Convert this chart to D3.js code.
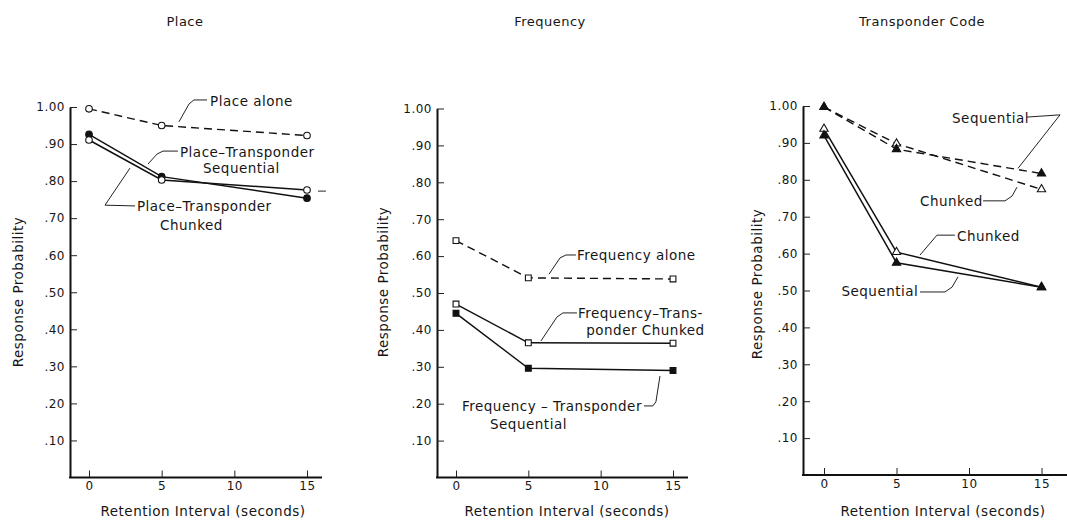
<!DOCTYPE html>
<html>
<head>
<meta charset="utf-8">
<script src="https://cdn.jsdelivr.net/npm/d3@7"></script>
<style>
  body { margin: 0; background: #fff; }
  svg { display: block; }
  text { font-family: "DejaVu Sans", sans-serif; fill: #161616; letter-spacing: 0.5px; }
</style>
</head>
<body>
<div id="chart"></div>
<script>
// x values (seconds) and y tick labels
const intervals   = [0, 5, 15];
const xTickValues = [0, 5, 10, 15];
const yTickValues = [1.0, 0.9, 0.8, 0.7, 0.6, 0.5, 0.4, 0.3, 0.2, 0.1];
const yTickLabels = ["1.00", ".90", ".80", ".70", ".60", ".50", ".40", ".30", ".20", ".10"];

// Place panel
const placeAlone      = [0.995, 0.950, 0.923];
const placeSequential = [0.926, 0.812, 0.754];
const placeChunked    = [0.911, 0.803, 0.776];

// Frequency panel
const freqAlone      = [0.642, 0.541, 0.538];
const freqChunked    = [0.470, 0.365, 0.364];
const freqSequential = [0.445, 0.296, 0.290];

// Transponder code panel
const codeSeqDashed   = [0.997, 0.883, 0.817];
const codeChunkDashed = [0.997, 0.898, 0.774];
const codeChunkSolid  = [0.938, 0.604, 0.509];
const codeSeqSolid    = [0.920, 0.575, 0.509];

const W = 1067, H = 523;
const svg = d3.select("#chart").append("svg")
    .attr("width", W).attr("height", H);

// panel layout (pixels)
const panels = [
  {
    title: "Place", titleX: 185, ylabX: 18, ylabY: 292, xlabX: 203,
    axisX: 70, x0: 89, x15: 307, xEnd: 322, y0: 477.5, y1: 107,
    series: [
      { v: placeAlone,      dash: true,  marker: "circle", fill: false },
      { v: placeSequential, dash: false, marker: "circle", fill: true },
      { v: placeChunked,    dash: false, marker: "circle", fill: false }
    ],
    notes: [
      { lines: [["Place alone", 8.33, 1.016]],
        path: [[8.12, 1.019], [7.22, 1.019], [6.88, 1.008], [6.19, 0.960]] },
      { lines: [["Place\u2013Transponder", 6.26, 0.879], ["Sequential", 7.84, 0.835]],
        path: [[6.12, 0.881], [5.09, 0.881], [4.68, 0.873], [4.06, 0.846]] },
      { lines: [["Place\u2013Transponder", 3.30, 0.731], ["Chunked", 4.89, 0.681]],
        path: [[3.17, 0.733], [1.10, 0.735], [2.82, 0.835]] },
      { lines: [], path: [[15.76, 0.773], [16.3, 0.773]] }
    ]
  },
  {
    title: "Frequency", titleX: 550, ylabX: 383, ylabY: 282, xlabX: 567,
    axisX: 437, x0: 456, x15: 673, xEnd: 688, y0: 477.5, y1: 108.5,
    series: [
      { v: freqAlone,      dash: true,  marker: "square", fill: false },
      { v: freqChunked,    dash: false, marker: "square", fill: false },
      { v: freqSequential, dash: false, marker: "square", fill: true }
    ],
    notes: [
      { lines: [["Frequency alone", 8.36, 0.603]],
        path: [[8.29, 0.603], [7.60, 0.603], [7.19, 0.595], [6.43, 0.551]] },
      { lines: [["Frequency\u2013Trans-", 8.43, 0.445], ["ponder Chunked", 9.0, 0.400]],
        path: [[8.36, 0.446], [7.39, 0.446], [6.98, 0.435], [5.87, 0.370]] },
      { lines: [["Frequency \u2013 Transponder", 0.41, 0.192], ["Sequential", 2.35, 0.143]],
        path: [[12.99, 0.194], [13.61, 0.194], [13.82, 0.205], [14.10, 0.275]] }
    ]
  },
  {
    title: "Transponder Code", titleX: 922, ylabX: 757, ylabY: 284, xlabX: 943,
    axisX: 803, x0: 824, x15: 1041.5, xEnd: 1067, y0: 475, y1: 106,
    series: [
      { v: codeChunkDashed, dash: true,  marker: "triangle", fill: false },
      { v: codeSeqDashed,   dash: true,  marker: "triangle", fill: true },
      { v: codeChunkSolid,  dash: false, marker: "triangle", fill: false },
      { v: codeSeqSolid,    dash: false, marker: "triangle", fill: true }
    ],
    notes: [
      { lines: [["Sequential", 8.83, 0.967]],
        path: [[14.0, 0.970], [16.28, 0.976], [13.38, 0.831]] },
      { lines: [["Chunked", 6.62, 0.743]],
        path: [[10.97, 0.743], [12.48, 0.743], [12.97, 0.756], [13.31, 0.780]] },
      { lines: [["Chunked", 9.17, 0.648]],
        path: [[9.03, 0.650], [7.79, 0.650], [6.62, 0.596]] },
      { lines: [["Sequential", 1.2, 0.497]],
        path: [[6.62, 0.496], [8.34, 0.496], [8.83, 0.509], [9.24, 0.537]] }
    ]
  }
];

panels.forEach(p => {
  const x = d3.scaleLinear().domain([0, 15]).range([p.x0, p.x15]);
  const y = d3.scaleLinear().domain([0, 1]).range([p.y0, p.y1]);
  const g = svg.append("g");

  // title
  g.append("text")
      .attr("x", p.titleX).attr("y", 21).attr("dy", "0.35em")
      .attr("text-anchor", "middle").attr("font-size", "13px")
      .text(p.title);

  // y axis, ticks pointing inwards
  const ya = g.append("g")
      .attr("transform", `translate(${p.axisX},0)`)
      .call(d3.axisLeft(y).tickValues(yTickValues)
        .tickFormat((d, i) => yTickLabels[i])
        .tickSizeInner(-7).tickSizeOuter(0).tickPadding(5));
  ya.select(".domain").attr("stroke-width", 2).attr("stroke", "#111");
  ya.selectAll(".tick line").attr("stroke", "#222");
  ya.selectAll(".tick text").attr("font-size", "12px")
      .attr("font-family", "DejaVu Sans, sans-serif").attr("fill", "#161616");

  // x axis
  g.append("line")
      .attr("x1", p.axisX - 1).attr("x2", p.xEnd)
      .attr("y1", p.y0).attr("y2", p.y0)
      .attr("stroke", "#111").attr("stroke-width", 2);
  const xa = g.append("g")
      .attr("transform", `translate(0,${p.y0})`)
      .call(d3.axisBottom(x).tickValues(xTickValues)
        .tickSizeInner(-7).tickSizeOuter(0).tickPadding(4));
  xa.select(".domain").remove();
  xa.selectAll(".tick line").attr("stroke", "#222");
  xa.selectAll(".tick text").attr("font-size", "12px")
      .attr("font-family", "DejaVu Sans, sans-serif").attr("fill", "#161616");

  // axis labels
  g.append("text")
      .attr("x", p.xlabX).attr("y", 511).attr("dy", "0.35em")
      .attr("text-anchor", "middle").attr("font-size", "13.5px")
      .text("Retention Interval (seconds)");
  g.append("text")
      .attr("transform", `translate(${p.ylabX},${p.ylabY}) rotate(-90)`)
      .attr("dy", "0.35em")
      .attr("text-anchor", "middle").attr("font-size", "13.5px")
      .text("Response Probability");

  // lines
  const line = d3.line().x((d, i) => x(intervals[i])).y(d => y(d));
  p.series.forEach(s => {
    g.append("path")
        .attr("d", line(s.v))
        .attr("fill", "none")
        .attr("stroke", "#111")
        .attr("stroke-width", s.dash ? 1.4 : 1.5)
        .attr("stroke-dasharray", s.dash ? "8,5" : null);
  });

  // markers
  const sym = { circle: d3.symbolCircle, square: d3.symbolSquare, triangle: d3.symbolTriangle };
  const size = { circle: 34, square: 34, triangle: 30 };
  p.series.forEach(s => {
    g.append("g").selectAll("path")
      .data(s.v)
      .join("path")
        .attr("transform", (d, i) => `translate(${x(intervals[i])},${y(d)})`)
        .attr("d", d3.symbol(sym[s.marker], size[s.marker]))
        .attr("fill", s.fill ? "#111" : "#fff")
        .attr("stroke", "#111")
        .attr("stroke-width", 1.1);
  });

  // annotations
  const leader = d3.line().x(d => x(d[0])).y(d => y(d[1]));
  p.notes.forEach(n => {
    g.append("path")
        .attr("d", leader(n.path))
        .attr("fill", "none")
        .attr("stroke", "#222")
        .attr("stroke-width", 1);
    n.lines.forEach(l => {
      g.append("text")
          .attr("x", x(l[1])).attr("y", y(l[2])).attr("dy", "0.35em")
          .attr("font-size", "13.5px")
          .text(l[0]);
    });
  });
});
</script>
</body>
</html>
